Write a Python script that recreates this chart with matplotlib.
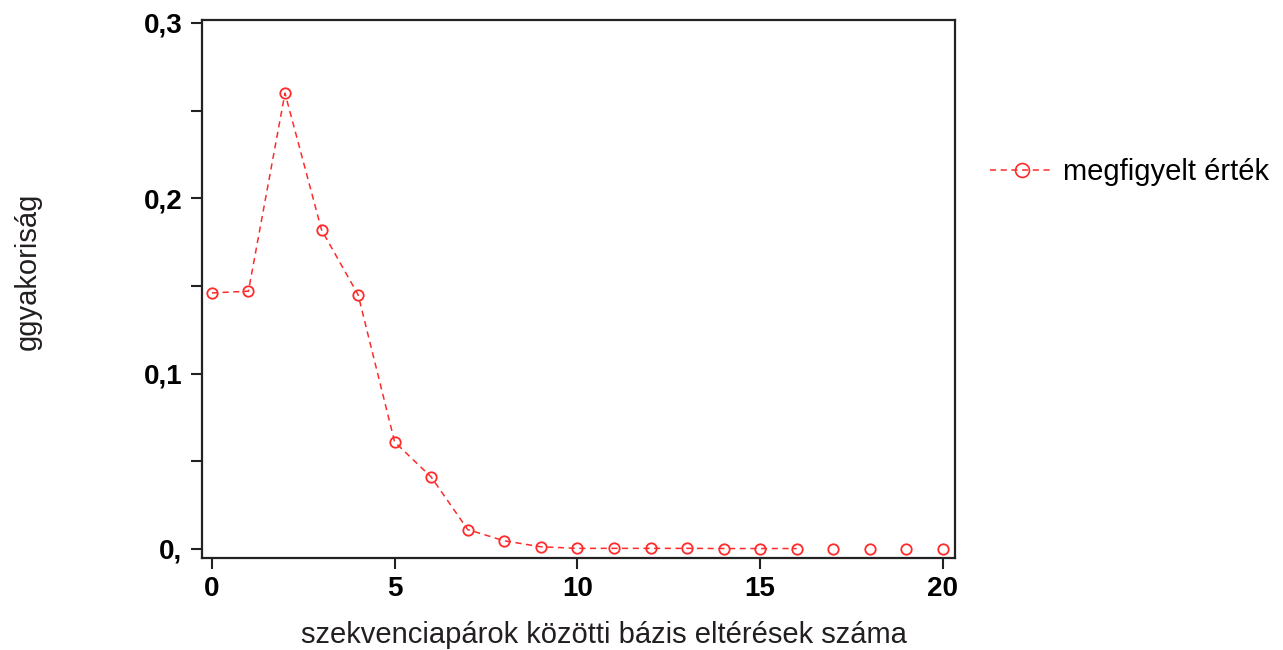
import numpy as np
import matplotlib.pyplot as plt
from matplotlib.ticker import MultipleLocator, FuncFormatter

# Relative frequency of base differences between sequence pairs
n_diff = list(range(21))
freq = [0.146, 0.147, 0.260, 0.182, 0.145, 0.061, 0.041, 0.011, 0.0046,
        0.0012, 0.0003, 0.0003, 0.0003, 0.0003, 0.0002, 0.0002, 0.0002,
        0.0, 0.0, 0.0, 0.0]
n_connected = 17  # dashed line runs through x = 0..16 only

tick_font = ['Liberation Sans Narrow', 'Liberation Sans', 'DejaVu Sans']
label_font = ['Liberation Sans', 'DejaVu Sans']

fig = plt.figure(figsize=(12.83, 6.5), dpi=100)
ax = fig.add_axes([202 / 1283, 1 - 558 / 650, 753 / 1283, 538 / 650])

red = '#ff2a2a'
ax.plot(n_diff[:n_connected], freq[:n_connected], color=red, lw=1.1,
        linestyle=(0, (4, 3)))
ax.plot(n_diff, freq, linestyle='none', marker='o', ms=7.5, mfc='none',
        mec=red, mew=1.3)
handle, = ax.plot([], [], color=red, lw=1.1, linestyle=(0, (4, 3)),
                  marker='o', ms=10, mfc='none', mec=red, mew=1.2)

ax.set_xlim(-0.27, 20.33)
ax.set_ylim(-0.0052, 0.3017)
ax.xaxis.set_major_locator(MultipleLocator(5))
ax.yaxis.set_major_locator(MultipleLocator(0.1))
ax.yaxis.set_minor_locator(MultipleLocator(0.05))
ax.yaxis.set_major_formatter(FuncFormatter(
    lambda v, _: '0,' if abs(v) < 1e-9 else ('%.1f' % v).replace('.', ',')))

ax.tick_params(axis='both', which='both', direction='out', length=8,
               width=1.5, color='#222222')
ax.tick_params(axis='x', pad=5)
ax.tick_params(axis='y', pad=6)
for lab in ax.get_xticklabels() + ax.get_yticklabels():
    lab.set_family(tick_font)
    lab.set_fontweight('bold')
    lab.set_fontsize(20)
for side in ax.spines.values():
    side.set_linewidth(1.6)
    side.set_color('#222222')

fig.text(604 / 1283, 1 - 635 / 650, 'szekvenciapárok közötti bázis eltérések száma',
         ha='center', va='center', fontsize=21, family=label_font,
         color='#231f20')
fig.text(28 / 1283, 1 - 271 / 650, 'ggyakoriság', ha='center', va='center',
         rotation=90, fontsize=21, family=label_font, color='#231f20')

fig.legend([handle], ['megfigyelt érték'], loc='center left',
           bbox_to_anchor=(990 / 1283, 1 - 172 / 650), frameon=False,
           borderpad=0, borderaxespad=0,
           prop={'family': label_font, 'size': 21}, handlelength=2.2,
           handletextpad=0.3)

fig.savefig('out.png', dpi=100)
